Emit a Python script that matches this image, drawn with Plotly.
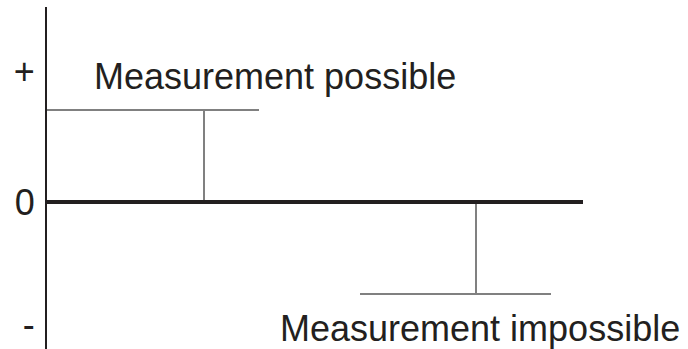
import plotly.graph_objects as go

# Levels: +1 = measurement possible, -1 = measurement impossible (0 = reference line)
zero_x = [0, 536]
zero_y = [0, 0]

possible_x = [0, 212]
possible_level = 1.0
possible_stem_x = 157

impossible_x = [313, 504]
impossible_level = -1.0
impossible_stem_x = 429

tick_vals = [1.42, 0, -1.33]
tick_text = ["+", "0", "-"]

labels = ["Measurement possible", "Measurement impossible"]
label_x = [45, 231]
label_y = [1.36, -1.38]

FONT = "Liberation Sans, Arial, Helvetica, sans-serif"
DARK = "#231f20"
GREY = "#808080"

fig = go.Figure()

# thin grey level markers with their stems
fig.add_trace(go.Scatter(
    x=possible_x, y=[possible_level] * 2,
    mode="lines", line=dict(color=GREY, width=2), showlegend=False, hoverinfo="skip",
))
fig.add_trace(go.Scatter(
    x=[possible_stem_x] * 2, y=[0, possible_level],
    mode="lines", line=dict(color=GREY, width=2), showlegend=False, hoverinfo="skip",
))
fig.add_trace(go.Scatter(
    x=impossible_x, y=[impossible_level] * 2,
    mode="lines", line=dict(color=GREY, width=2), showlegend=False, hoverinfo="skip",
))
fig.add_trace(go.Scatter(
    x=[impossible_stem_x] * 2, y=[0, impossible_level],
    mode="lines", line=dict(color=GREY, width=2), showlegend=False, hoverinfo="skip",
))

# thick zero line on top
fig.add_trace(go.Scatter(
    x=zero_x, y=zero_y,
    mode="lines", line=dict(color=DARK, width=4), showlegend=False, hoverinfo="skip",
))

for text, x, y in zip(labels, label_x, label_y):
    fig.add_annotation(
        x=x, y=y, text=text, showarrow=False,
        xanchor="left", yanchor="middle",
        font=dict(family=FONT, size=36, color=DARK),
    )

fig.update_layout(
    width=688, height=349,
    paper_bgcolor="white", plot_bgcolor="white",
    margin=dict(l=47, r=0, t=7, b=0),
    font=dict(family=FONT, color=DARK),
    xaxis=dict(
        range=[0, 641], visible=False, fixedrange=True,
    ),
    yaxis=dict(
        range=[-1.598, 2.12],
        showgrid=False, zeroline=False,
        showline=True, linecolor=DARK, linewidth=2,
        tickmode="array", tickvals=tick_vals, ticktext=tick_text,
        ticks="outside", ticklen=3, tickcolor="rgba(0,0,0,0)",
        tickfont=dict(family=FONT, size=36, color=DARK),
        fixedrange=True,
    ),
)

# drop the browser's default 8px body margin so the figure sits at the window corner
fig.write_html(
    "out.html",
    config={"displayModeBar": False},
    post_script="document.body.style.margin = '0';",
)
